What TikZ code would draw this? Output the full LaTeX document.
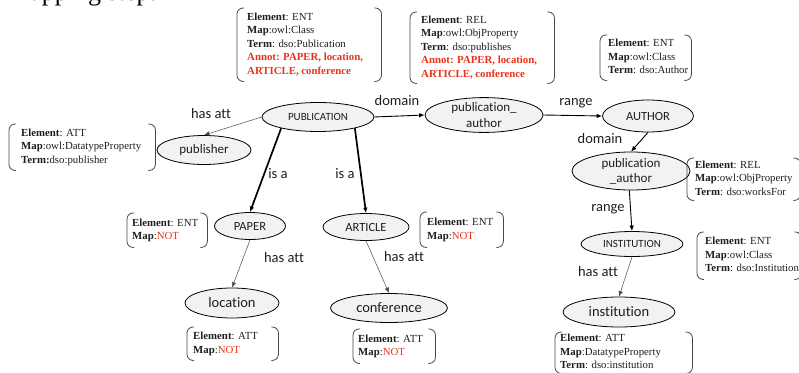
\documentclass[tikz,border=0pt]{standalone}
\usepackage{fontspec}
\setmainfont{Liberation Serif}
\newfontfamily\calib[Ligatures={NoCommon}]{Carlito}
\usetikzlibrary{arrows.meta,shapes.geometric}
\definecolor{annred}{RGB}{232,52,28}
\definecolor{efill}{RGB}{242,242,242}
\definecolor{brkcol}{RGB}{70,70,70}
\definecolor{txtcol}{RGB}{30,30,30}
\newcommand\bxt[2]{\makebox[#1pt][l]{\begin{tabular}{@{}l@{}}#2\end{tabular}}}
\newcommand\redNOT{\textcolor{annred}{NOT}}
\newcommand\annot[1]{\textcolor{annred}{\textbf{#1}}}
\begin{document}
\begin{tikzpicture}[x=1pt,y=-1pt,
  el/.style={ellipse,draw=black,line width=0.8pt,fill=efill,inner sep=0pt,align=center,text=txtcol},
  f11/.style={font=\calib\fontsize{11}{13}\selectfont},
  f125/.style={font=\calib\fontsize{12.5}{14}\selectfont},
  f13/.style={font=\calib\fontsize{13}{15}\selectfont},
  f145/.style={font=\calib\fontsize{14.5}{16}\selectfont},
  lbl/.style={inner sep=0pt,font=\calib\fontsize{14.5}{16}\selectfont,text=txtcol},
  bbox/.style={inner xsep=#1,inner ysep=0pt,anchor=north west,text=txtcol,
    font=\fontsize{10.8}{13.4}\selectfont},
  brk/.style={draw=brkcol,line width=0.8pt,rounded corners=6pt},
  tip/.style={-{Latex[length=5.5pt,width=4.5pt]}},
  thinarr/.style={tip,draw=black!70,line width=0.5pt},
  medarr/.style={tip,draw=black,line width=0.9pt},
  thickarr/.style={tip,draw=black,line width=1.7pt},
]
\useasboundingbox (0,0) rectangle (799,372);

% cropped heading
\node[anchor=base west,inner sep=0pt,font=\fontsize{26}{30}\selectfont] (title) at (10,1) {mapping step:};

% ellipses
\node[el,f11,minimum width=112,minimum height=29] (pub) at (318,117) {PUBLICATION};
\node[el,f13,minimum width=94,minimum height=29] (publisher) at (204,150) {publisher};
\node[el,f13,minimum width=118,minimum height=32,font=\calib\fontsize{13}{15.5}\selectfont] (pa1) at (484,115) {publication\_\\author};
\node[el,f125,minimum width=91,minimum height=32] (author) at (648,116) {AUTHOR};
\node[el,f13,minimum width=118,minimum height=38] (pa2) at (631,171) {publication\\\_author};
\node[el,f125,minimum width=71,minimum height=27] (paper) at (250,226) {PAPER};
\node[el,f125,minimum width=86,minimum height=27] (article) at (366,227) {ARTICLE};
\node[el,f145,minimum width=94,minimum height=30] (location) at (232,303) {location};
\node[el,f145,minimum width=117,minimum height=29] (conference) at (389,308) {conference};
\node[el,f11,minimum width=102,minimum height=25] (inst) at (632,244) {INSTITUTION};
\node[el,f145,minimum width=112,minimum height=30] (institution) at (619,312) {institution};

% connectors
\draw[thinarr] (pub.west) -- (publisher.north);
\draw[thickarr] (pub.197) -- (paper.north);
\draw[thickarr] (pub.343) -- (article.north);
\draw[medarr] (pub.east) -- (pa1.west);
\draw[medarr] (pa1.east) -- (author.west);
\draw[medarr] (author.south) -- (pa2.north);
\draw[medarr] (pa2.265) -- (inst.north);
\draw[thinarr] (inst.south) -- (institution.north);
\draw[thinarr] (paper.south) -- (location.north);
\draw[thinarr] (article.south) -- (conference.north);

% connector labels
\node[lbl] (l1) at (211,114) {has att};
\node[lbl] (l2) at (278,174) {is a};
\node[lbl] (l3) at (345,174) {is a};
\node[lbl] (l4) at (397,101) {domain};
\node[lbl] (l5) at (576,103) {range};
\node[lbl] (l6) at (600,139) {domain};
\node[lbl] (l7) at (608,209) {range};
\node[lbl] (l8) at (598,272) {has att};
\node[lbl] (l9) at (284,258) {has att};
\node[lbl] (l10) at (404,257) {has att};

% annotation boxes
\node[bbox=10,minimum height=73] (b1) at (237,8) {\bxt{124}{\textbf{Element}: ENT\\ \textbf{Map}:owl:Class\\ \textbf{Term}: dso:Publication\\ \annot{Annot: PAPER, location,}\\ \annot{ARTICLE, conference}}};
\node[bbox=11,minimum height=71] (b2) at (410,12) {\bxt{122}{\textbf{Element}: REL\\ \textbf{Map}:owl:ObjProperty\\ \textbf{Term}: dso:publishes\\ \annot{Annot: PAPER, location,}\\ \annot{ARTICLE, conference}}};
\node[bbox=8,minimum height=45] (b3) at (600,35) {\bxt{75}{\textbf{Element}: ENT\\ \textbf{Map}:owl:Class\\ \textbf{Term}: dso:Author}};
\node[bbox=12,minimum height=46] (b4) at (9,124) {\bxt{122}{\textbf{Element}: ATT\\ \textbf{Map}:owl:DatatypeProperty\\ \textbf{Term:}dso:publisher}};
\node[bbox=8,minimum height=42] (b5) at (687,158) {\bxt{97}{\textbf{Element}: REL\\ \textbf{Map}:owl:ObjProperty\\ \textbf{Term}: dso:worksFor}};
\node[bbox=8,minimum height=47] (b6) at (697,232) {\bxt{88}{\textbf{Element}: ENT\\ \textbf{Map}:owl:Class\\ \textbf{Term}: dso:Institution}};
\node[bbox=5,minimum height=34] (b7) at (127,213) {\bxt{70}{\textbf{Element}: ENT\\ \textbf{Map}:\redNOT}};
\node[bbox=7,minimum height=35] (b8) at (420,212) {\bxt{69}{\textbf{Element}: ENT\\ \textbf{Map}:\redNOT}};
\node[bbox=6,minimum height=33] (b9) at (187,327) {\bxt{79}{\textbf{Element}: ATT\\ \textbf{Map}:\redNOT}};
\node[bbox=5,minimum height=34] (b10) at (353,329) {\bxt{72}{\textbf{Element}: ATT\\ \textbf{Map}:\redNOT}};
\node[bbox=5,minimum height=41] (b11) at (555,332) {\bxt{127}{\textbf{Element}: ATT\\ \textbf{Map}:DatatypeProperty\\ \textbf{Term}: dso:institution}};

\foreach \b in {b1,b2,b3,b4,b5,b6,b7,b8,b9,b10,b11}{
  \draw[brk] ([xshift=7pt]\b.north west) -- (\b.north west) -- (\b.south west) -- ([xshift=7pt]\b.south west);
  \draw[brk] ([xshift=-7pt]\b.north east) -- (\b.north east) -- (\b.south east) -- ([xshift=-7pt]\b.south east);
}
\end{tikzpicture}
\end{document}
